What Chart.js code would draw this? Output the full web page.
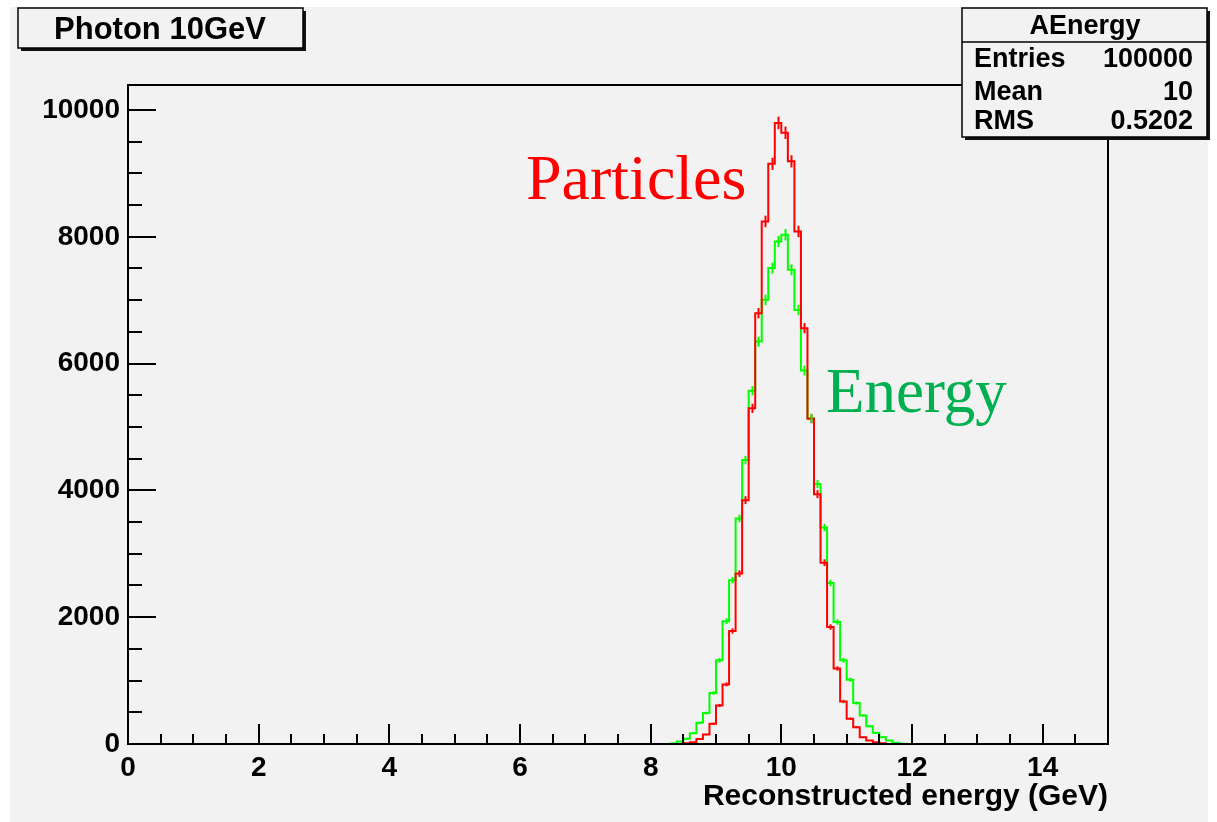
<!DOCTYPE html>
<html lang="en">

<head>
  <meta charset="UTF-8">
  <title>Photon 10GeV</title>
  <script src="https://cdn.jsdelivr.net/npm/chart.js"></script>
  <style>
    body { margin: 0; background: #ffffff; }
    .grafico { width: 1217px; height: 822px; }
  </style>
</head>

<body>
  <div class="grafico">
    <canvas id="graficoEnergia" width="1217" height="822"></canvas>
  </div>

  <script>
    // histograma: 150 bins de 0.1 GeV entre 0 e 15 GeV
    const larguraBin = 0.1;
    const totalBins = 150;
    const primeiroBin = 8.3; // borda inferior do primeiro bin listado abaixo

    // contagens por bin a partir de 8.3 GeV
    const contagensParticulas = [0, 0, 10, 29, 80, 150, 319, 608, 940, 1782, 2688, 3846, 5294, 6795, 8242, 9150,
      9796, 9640, 9190, 8084, 6558, 5130, 3940, 2860, 1845, 1190, 670, 398, 265, 107, 55, 28, 12, 0, 0, 0];
    const contagensEnergia = [8, 40, 82, 171, 335, 487, 803, 1319, 1935, 2583, 3557, 4478, 5572, 6347, 7005, 7506,
      7926, 8032, 7479, 6847, 5890, 5136, 4099, 3414, 2540, 1924, 1319, 1014, 645, 450, 281, 177, 107, 55, 19, 5];

    // trecho do eixo onde aparece a barra de erro horizontal em zero
    const faixaZero = [8.33, 11.85];

    const ticksX = [0, 2, 4, 6, 8, 10, 12, 14];
    const ticksY = [0, 2000, 4000, 6000, 8000, 10000];
    const ticksMenoresX = 0.5;
    const ticksMenoresY = 500;
    const maxY = 10394;

    const tituloHist = 'Photon 10GeV';
    const nomeStats = 'AEnergy';
    const statsNomes = ['Entries', 'Mean', 'RMS'];
    const statsValores = ['100000', '10', '0.5202'];

    const cinza = '#f2f2f2';
    const fonteSans = "'Liberation Sans', Arial, sans-serif";
    const fonteSerif = "'Liberation Serif', 'Times New Roman', serif";

    function montarHistograma(contagens) {
      const inicio = Math.round(primeiroBin / larguraBin);
      const pontos = [];
      for (let i = 0; i <= totalBins; i++) {
        const k = Math.min(i, totalBins - 1) - inicio;
        const y = (k >= 0 && k < contagens.length) ? contagens[k] : 0;
        pontos.push({ x: +(i * larguraBin).toFixed(1), y: y });
      }
      return pontos;
    }

    // fundo cinza do canvas do ROOT
    const fundo = {
      id: 'fundo',
      beforeDraw(chart) {
        const ctx = chart.ctx;
        ctx.save();
        ctx.fillStyle = '#ffffff';
        ctx.fillRect(0, 0, chart.width, chart.height);
        ctx.fillStyle = cinza;
        ctx.fillRect(10, 7, 1198, 815);
        ctx.restore();
      }
    };

    // barras de erro (raiz de N) no centro de cada bin
    const barrasErro = {
      id: 'barrasErro',
      afterDatasetsDraw(chart) {
        const ctx = chart.ctx;
        const x = chart.scales.x;
        const y = chart.scales.y;
        const series = [[contagensParticulas, '#ff0000'], [contagensEnergia, '#00ff00']];
        ctx.save();
        ctx.lineWidth = 2;
        series.forEach(([contagens, cor]) => {
          ctx.strokeStyle = cor;
          contagens.forEach((c, k) => {
            if (c <= 0) return;
            const centro = primeiroBin + (k + 0.5) * larguraBin;
            const px = Math.round(x.getPixelForValue(centro)) + 0.5;
            const erro = Math.sqrt(c);
            ctx.beginPath();
            ctx.moveTo(px, y.getPixelForValue(c - erro));
            ctx.lineTo(px, y.getPixelForValue(c + erro));
            ctx.stroke();
          });
        });
        ctx.restore();
      }
    };

    // moldura e ticks para dentro, no estilo do ROOT
    const moldura = {
      id: 'moldura',
      afterDatasetsDraw(chart) {
        const ctx = chart.ctx;
        const area = chart.chartArea;
        const x = chart.scales.x;
        const y = chart.scales.y;
        ctx.save();
        ctx.strokeStyle = '#000000';
        ctx.lineWidth = 2;
        ctx.strokeRect(area.left, area.top, area.right - area.left, area.bottom - area.top);

        ctx.beginPath();
        for (let v = 0; v <= x.max + 1e-6; v += ticksMenoresX) {
          const px = Math.round(x.getPixelForValue(v));
          const maior = ticksX.includes(+v.toFixed(1));
          ctx.moveTo(px, area.bottom);
          ctx.lineTo(px, area.bottom - (maior ? 20 : 10));
        }
        for (let v = 0; v <= y.max; v += ticksMenoresY) {
          const py = Math.round(y.getPixelForValue(v));
          const maior = ticksY.includes(v);
          ctx.moveTo(area.left, py);
          ctx.lineTo(area.left + (maior ? 28 : 14), py);
        }
        ctx.stroke();
        ctx.restore();
      }
    };

    function caixa(ctx, x, y, w, h) {
      ctx.fillStyle = '#111111';
      ctx.fillRect(x + 3, y + 3, w, h);
      ctx.fillStyle = cinza;
      ctx.fillRect(x, y, w, h);
      ctx.strokeStyle = '#000000';
      ctx.lineWidth = 1.5;
      ctx.strokeRect(x, y, w, h);
    }

    // caixa de titulo, caixa de estatisticas e rotulos das curvas
    const caixas = {
      id: 'caixas',
      afterDraw(chart) {
        const ctx = chart.ctx;
        ctx.save();

        caixa(ctx, 18, 8, 285, 40);
        ctx.fillStyle = '#000000';
        ctx.font = 'bold 31px ' + fonteSans;
        ctx.textAlign = 'center';
        ctx.textBaseline = 'middle';
        ctx.fillText(tituloHist, 160, 30);

        caixa(ctx, 962, 8, 245, 129);
        ctx.beginPath();
        ctx.moveTo(962, 42);
        ctx.lineTo(1207, 42);
        ctx.stroke();
        ctx.fillStyle = '#000000';
        ctx.font = 'bold 27px ' + fonteSans;
        ctx.fillText(nomeStats, 1085, 27);
        const linhas = [60, 93, 122];
        statsNomes.forEach((nome, i) => {
          ctx.textAlign = 'left';
          ctx.fillText(nome, 974, linhas[i]);
          ctx.textAlign = 'right';
          ctx.fillText(statsValores[i], 1193, linhas[i]);
        });

        ctx.textAlign = 'left';
        ctx.textBaseline = 'alphabetic';
        ctx.font = '64px ' + fonteSerif;
        ctx.fillStyle = '#ff0000';
        ctx.fillText('Particles', 526, 199);
        ctx.fillStyle = '#00b050';
        ctx.font = '63px ' + fonteSerif;
        ctx.fillText('Energy', 826, 412);
        ctx.restore();
      }
    };

    const ctxEnergia = document.getElementById('graficoEnergia');
    new Chart(ctxEnergia, {
      type: 'line',
      data: {
        datasets: [
          {
            label: 'Particles',
            data: montarHistograma(contagensParticulas),
            borderColor: '#ff0000',
            borderWidth: 2,
            stepped: 'before',
            pointRadius: 0,
            fill: false
          },
          {
            label: 'Energy',
            data: montarHistograma(contagensEnergia),
            borderColor: '#00ff00',
            borderWidth: 2,
            stepped: 'before',
            pointRadius: 0,
            fill: false
          },
          {
            label: 'zero',
            data: faixaZero.map(v => ({ x: v, y: 0 })),
            borderColor: '#222222',
            borderWidth: 2,
            pointRadius: 0,
            fill: false
          }
        ]
      },
      options: {
        responsive: false,
        animation: false,
        devicePixelRatio: 1,
        layout: { padding: { left: 0, top: 85, right: 109, bottom: 0 } },
        plugins: {
          legend: { display: false },
          tooltip: { enabled: false }
        },
        scales: {
          x: {
            type: 'linear',
            min: 0,
            max: 15,
            afterFit: (s) => { s.height = 78; },
            afterBuildTicks: (s) => { s.ticks = ticksX.map(v => ({ value: v })); },
            grid: { display: false, drawTicks: false },
            border: { display: false },
            ticks: {
              padding: 7,
              color: '#000000',
              font: { family: fonteSans, size: 28, weight: 'bold' },
              maxRotation: 0,
              autoSkip: false,
              callback: (v) => v.toString()
            },
            title: {
              display: true,
              text: 'Reconstructed energy (GeV)',
              align: 'end',
              color: '#000000',
              font: { family: fonteSans, size: 30, weight: 'bold' },
              padding: { top: 0, bottom: 7 }
            }
          },
          y: {
            min: 0,
            max: maxY,
            afterFit: (s) => { s.width = 128; },
            afterBuildTicks: (s) => { s.ticks = ticksY.map(v => ({ value: v })); },
            grid: { display: false, drawTicks: false },
            border: { display: false },
            ticks: {
              padding: 8,
              color: '#000000',
              font: { family: fonteSans, size: 28, weight: 'bold' },
              callback: (v) => v.toString()
            }
          }
        }
      },
      plugins: [fundo, barrasErro, moldura, caixas]
    });
  </script>

</body>

</html>
